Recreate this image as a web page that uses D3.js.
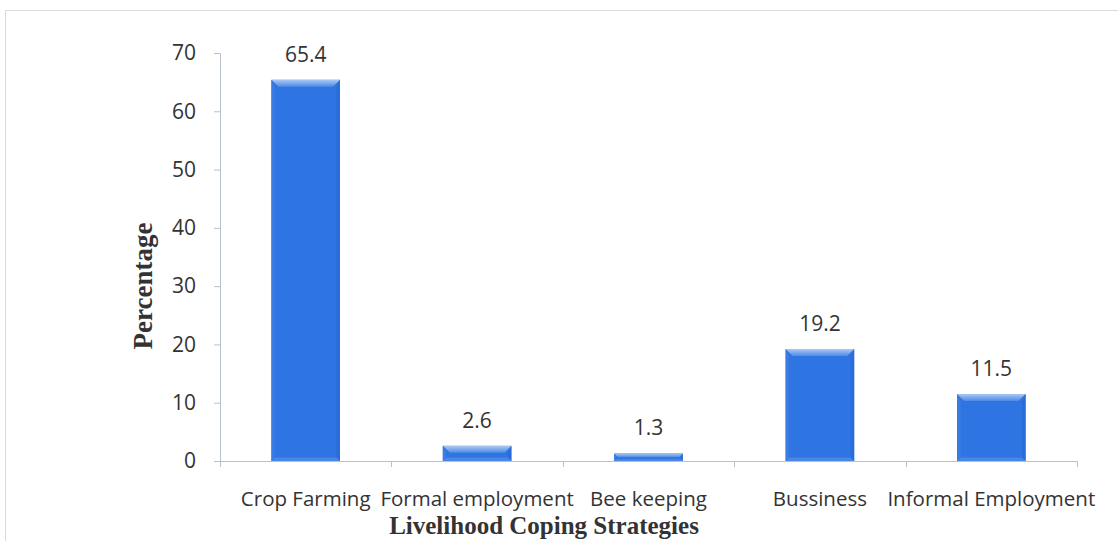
<!DOCTYPE html>
<html><head><meta charset="utf-8">
<script src="https://cdn.jsdelivr.net/npm/d3@7"></script>
<style>body{margin:0;background:#fff}svg{display:block}</style>
</head><body>
<svg id="c" width="1118" height="541"></svg>
<script>
const categories = ["Crop Farming","Formal employment","Bee keeping","Bussiness","Informal Employment"];
const values = [65.4, 2.6, 1.3, 19.2, 11.5];
const yTicks = [0,10,20,30,40,50,60,70];
const yTitle = "Percentage";
const xTitle = "Livelihood Coping Strategies";

(function(){
const svg = d3.select("#c");
const mLeft = 220, mRight = 1077, mTop = 53, mBottom = 461;
const sans = "'Open Sans', Lato, sans-serif";
const serif = "'Liberation Serif','DejaVu Serif',serif";

svg.append("rect").attr("x",5.5).attr("y",10.5).attr("width",1130).attr("height",540)
  .attr("fill","none").attr("stroke","#d8dce2").attr("stroke-width",1);

const x = d3.scaleBand().domain(categories).range([mLeft,mRight]).paddingInner(0.6).paddingOuter(0.3);
const y = d3.scaleLinear().domain([0,70]).range([mBottom,mTop]);

const yAxis = d3.axisLeft(y).tickValues(yTicks).tickSize(6).tickPadding(18);
const yg = svg.append("g").attr("transform",`translate(${mLeft},0)`).call(yAxis);
yg.select(".domain").attr("stroke","#b8c0cc");
yg.selectAll(".tick line").attr("stroke","#b8c0cc");
yg.selectAll(".tick text").attr("font-family",sans).attr("font-size",21).attr("fill","#333");

const xb = d3.scaleLinear().domain([0,categories.length]).range([mLeft,mRight]);
svg.append("line").attr("x1",mLeft).attr("x2",mRight).attr("y1",mBottom+0.5).attr("y2",mBottom+0.5).attr("stroke","#b8c0cc");
svg.selectAll(".xt").data(d3.range(categories.length+1)).join("line")
  .attr("x1",d=>Math.round(xb(d))+0.5).attr("x2",d=>Math.round(xb(d))+0.5)
  .attr("y1",mBottom).attr("y2",mBottom+6).attr("stroke","#b8c0cc");

const defs = svg.append("defs");
const gr = defs.append("linearGradient").attr("id","topbev").attr("x1",0).attr("y1",0).attr("x2",0).attr("y2",1);
gr.append("stop").attr("offset","0%").attr("stop-color","#a9c9f4");
gr.append("stop").attr("offset","100%").attr("stop-color","#4f8ae6");

const bw = x.bandwidth();
const bev = 7;
const g = svg.append("g");
categories.forEach((c,i)=>{
  const x0 = x(c), x1 = x0+bw, y0 = y(values[i]), y1 = y(0);
  const h = y1-y0;
  const b = Math.min(bev, h/2);
  g.append("rect").attr("x",x0).attr("y",y0).attr("width",bw).attr("height",h).attr("fill","#2e74e2");
  g.append("path").attr("d",`M${x0},${y0}L${x1},${y0}L${x1-b},${y0+b}L${x0+b},${y0+b}Z`).attr("fill","url(#topbev)");
  g.append("path").attr("d",`M${x0},${y0}L${x0+b/2},${y0+b}L${x0+b/2},${y1-b/2}L${x0},${y1}Z`).attr("fill","#3a7ce4");
  g.append("path").attr("d",`M${x1},${y0}L${x1-b/2},${y0+b}L${x1-b/2},${y1-b/2}L${x1},${y1}Z`).attr("fill","#2a6cd8");
  g.append("path").attr("d",`M${x0},${y1}L${x0+b/2},${y1-b/2}L${x1-b/2},${y1-b/2}L${x1},${y1}Z`).attr("fill","#4a86e4");
  svg.append("text").attr("x",x0+bw/2).attr("y",y0-18).attr("text-anchor","middle")
    .attr("font-family",sans).attr("font-size",21).attr("fill","#333").text(values[i]);
  svg.append("text").attr("x",x0+bw/2).attr("y",506).attr("text-anchor","middle")
    .attr("font-family",sans).attr("font-size",20.5).attr("fill","#333").text(c);
});

svg.append("text").attr("transform","translate(152,286) rotate(-90)").attr("text-anchor","middle")
  .attr("font-family",serif).attr("font-weight","bold").attr("font-size",27).attr("fill","#333").text(yTitle);
svg.append("text").attr("x",544).attr("y",534).attr("text-anchor","middle")
  .attr("font-family",serif).attr("font-weight","bold").attr("font-size",25).attr("fill","#333").text(xTitle);
})();
</script>
</body></html>
